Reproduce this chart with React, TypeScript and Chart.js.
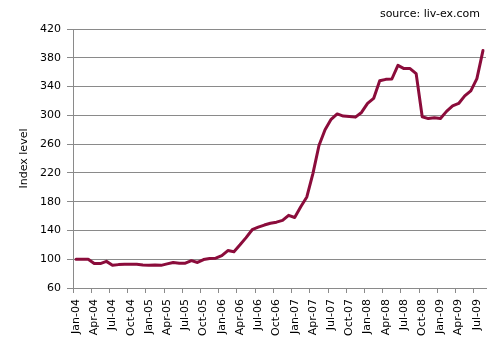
import React, { useEffect, useRef } from 'react';
import { Chart, registerables } from 'chart.js';

Chart.register(...registerables);

const months = [
  'Jan-04', 'Feb-04', 'Mar-04', 'Apr-04', 'May-04', 'Jun-04', 'Jul-04', 'Aug-04', 'Sep-04', 'Oct-04', 'Nov-04', 'Dec-04',
  'Jan-05', 'Feb-05', 'Mar-05', 'Apr-05', 'May-05', 'Jun-05', 'Jul-05', 'Aug-05', 'Sep-05', 'Oct-05', 'Nov-05', 'Dec-05',
  'Jan-06', 'Feb-06', 'Mar-06', 'Apr-06', 'May-06', 'Jun-06', 'Jul-06', 'Aug-06', 'Sep-06', 'Oct-06', 'Nov-06', 'Dec-06',
  'Jan-07', 'Feb-07', 'Mar-07', 'Apr-07', 'May-07', 'Jun-07', 'Jul-07', 'Aug-07', 'Sep-07', 'Oct-07', 'Nov-07', 'Dec-07',
  'Jan-08', 'Feb-08', 'Mar-08', 'Apr-08', 'May-08', 'Jun-08', 'Jul-08', 'Aug-08', 'Sep-08', 'Oct-08', 'Nov-08', 'Dec-08',
  'Jan-09', 'Feb-09', 'Mar-09', 'Apr-09', 'May-09', 'Jun-09', 'Jul-09', 'Aug-09',
];

const indexValues = [
  100, 100, 100, 94, 94, 97, 91.5, 92.5, 93, 93, 93, 92,
  91.5, 92, 91.5, 93.5, 95.5, 94.5, 94.5, 98, 95.5, 99.5, 101, 101.5,
  105, 112, 110.5, 120, 130, 141, 144.5, 147.5, 150, 151.5, 154, 161,
  158, 173, 186.5, 219, 258, 280, 294.5, 302, 299, 298.5, 297.5, 304,
  316.5, 323.5, 348, 350, 350.5, 369.5, 365, 365, 358, 298, 295.5, 296.5,
  295.5, 305.5, 313, 316.5, 327, 334, 351, 390,
];

const yTicks = [60, 100, 140, 180, 220, 260, 300, 340, 380, 420];
const xLabelStep = 3;
const yTitle = 'Index level';
const sourceText = 'source: liv-ex.com';

const FONT = 'DejaVu Sans';
const GRID = '#8a8a8a';
const LINE = '#8b0c3b';

export default function App() {
  const ref = useRef<HTMLCanvasElement | null>(null);

  useEffect(() => {
    if (!ref.current) return;
    const sourcePlugin = {
      id: 'sourceNote',
      afterDraw(chart: any) {
        const ctx = chart.ctx;
        ctx.save();
        ctx.font = `11px "${FONT}"`;
        ctx.fillStyle = '#000';
        ctx.textAlign = 'right';
        ctx.textBaseline = 'middle';
        ctx.fillText(sourceText, 480, 14.5);
        ctx.restore();
      },
    };
    const chart = new Chart(ref.current, {
      type: 'line',
      data: {
        datasets: [
          {
            data: indexValues.map((v, i) => ({ x: i + 0.5, y: v })),
            borderColor: LINE,
            borderWidth: 3,
            pointRadius: 0,
            tension: 0,
            borderJoinStyle: 'round',
            borderCapStyle: 'round',
          },
        ],
      },
      options: {
        responsive: false,
        animation: false,
        devicePixelRatio: 1,
        layout: { padding: { top: 29, right: 15, left: 0, bottom: 0 } },
        plugins: { legend: { display: false }, tooltip: { enabled: false } },
        scales: {
          x: {
            type: 'linear',
            min: 0,
            max: months.length,
            afterBuildTicks: (s: any) => {
              s.ticks = months
                .map((_, i) => i)
                .filter((i) => i % xLabelStep === 0)
                .map((v) => ({ value: v }));
            },
            afterFit: (s: any) => {
              s.height = 65;
            },
            ticks: {
              autoSkip: false,
              minRotation: 90,
              maxRotation: 90,
              labelOffset: 3,
              padding: 6,
              color: '#000',
              font: { family: FONT, size: 11 },
              callback: (v: any) => months[v],
            },
            grid: { drawOnChartArea: false, color: GRID, tickLength: 5 },
            border: { color: GRID },
          },
          y: {
            min: 60,
            max: 420,
            afterBuildTicks: (s: any) => {
              s.ticks = yTicks.map((v) => ({ value: v }));
            },
            afterFit: (s: any) => {
              s.width = 73;
            },
            ticks: {
              padding: 6,
              color: '#000',
              font: { family: FONT, size: 11 },
            },
            grid: { color: GRID, tickLength: 6 },
            border: { color: GRID },
            title: {
              display: true,
              text: yTitle,
              color: '#000',
              font: { family: FONT, size: 11 },
              padding: { top: 18, bottom: 0 },
            },
          },
        },
      },
      plugins: [sourcePlugin],
    } as any);
    return () => chart.destroy();
  }, []);

  return (
    <div style={{ position: 'absolute', left: 0, top: 0, width: 501, height: 353, background: '#fff' }}>
      <canvas ref={ref} width={501} height={353} style={{ display: 'block' }} />
    </div>
  );
}
